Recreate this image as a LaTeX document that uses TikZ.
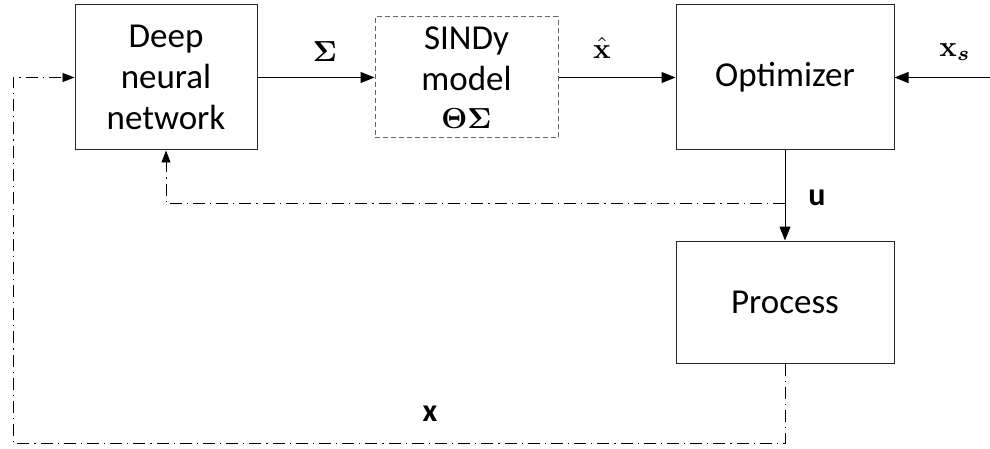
\documentclass[tikz,border=0pt]{standalone}
\usepackage{amsmath}
\usepackage[no-math]{fontspec}
\setmainfont{Carlito}
\usetikzlibrary{arrows.meta}
\newcommand{\bigmath}[1]{\scalebox{2.9}{\normalsize$#1$}}
\begin{document}
\begin{tikzpicture}[x=1pt,y=-1pt,
  blockbox/.style={draw=black!85,line width=1pt,rectangle,minimum width=#1,align=center,inner sep=0pt,
    font=\fontsize{35}{41}\selectfont},
  main/.style={line width=1pt,-{Triangle[length=14pt,width=11pt]}},
  fbline/.style={line width=0.9pt,dash pattern=on 12pt off 5pt on 1.2pt off 5pt,-{Triangle[length=12pt,width=9pt]}},
  mlabel/.style={font=\normalsize},
  tlabel/.style={font=\fontsize{32}{36}\selectfont\bfseries}]
\useasboundingbox (0,0) rectangle (990,449);
\node[blockbox=182pt,minimum height=145pt] (dnn) at (166,77.5) {Deep\\neural\\network};
\node[blockbox=183pt,minimum height=121pt,draw=black!60,dash pattern=on 5pt off 3pt] (sindy) at (466.5,77.5) {SINDy\\model\\[-3pt]\bigmath{\mathbf{\Theta\Sigma}}};
\node[blockbox=218pt,minimum height=145pt] (opt) at (785,77.5) {Optimizer};
\node[blockbox=218pt,minimum height=122pt] (proc) at (785,302) {Process};
\coordinate (xsin) at (990,77.5);
\coordinate (fb1) at (785,203);
\coordinate (c1) at (13,443);
\coordinate (c2) at (13,77.5);
\draw[main] (dnn) -- (sindy);
\draw[main] (sindy) -- (opt);
\draw[main] (xsin) -- (opt);
\draw[main] (opt) -- (proc);
\draw[fbline] (fb1) -| (dnn.south);
\draw[fbline] (proc.south) |- (c1) -- (c2) -- (dnn.west);
\node[mlabel] (lsig) at (325,52) {\bigmath{\mathbf{\Sigma}}};
\node[mlabel] (lxh) at (602,48) {\bigmath{\hat{\mathbf{x}}}};
\node[mlabel] (lxs) at (955,52) {\bigmath{\mathbf{x}_{\boldsymbol{s}}}};
\node[tlabel] (lu) at (817,198) {u};
\node[tlabel] (lx) at (430,414) {x};
\end{tikzpicture}
\end{document}
